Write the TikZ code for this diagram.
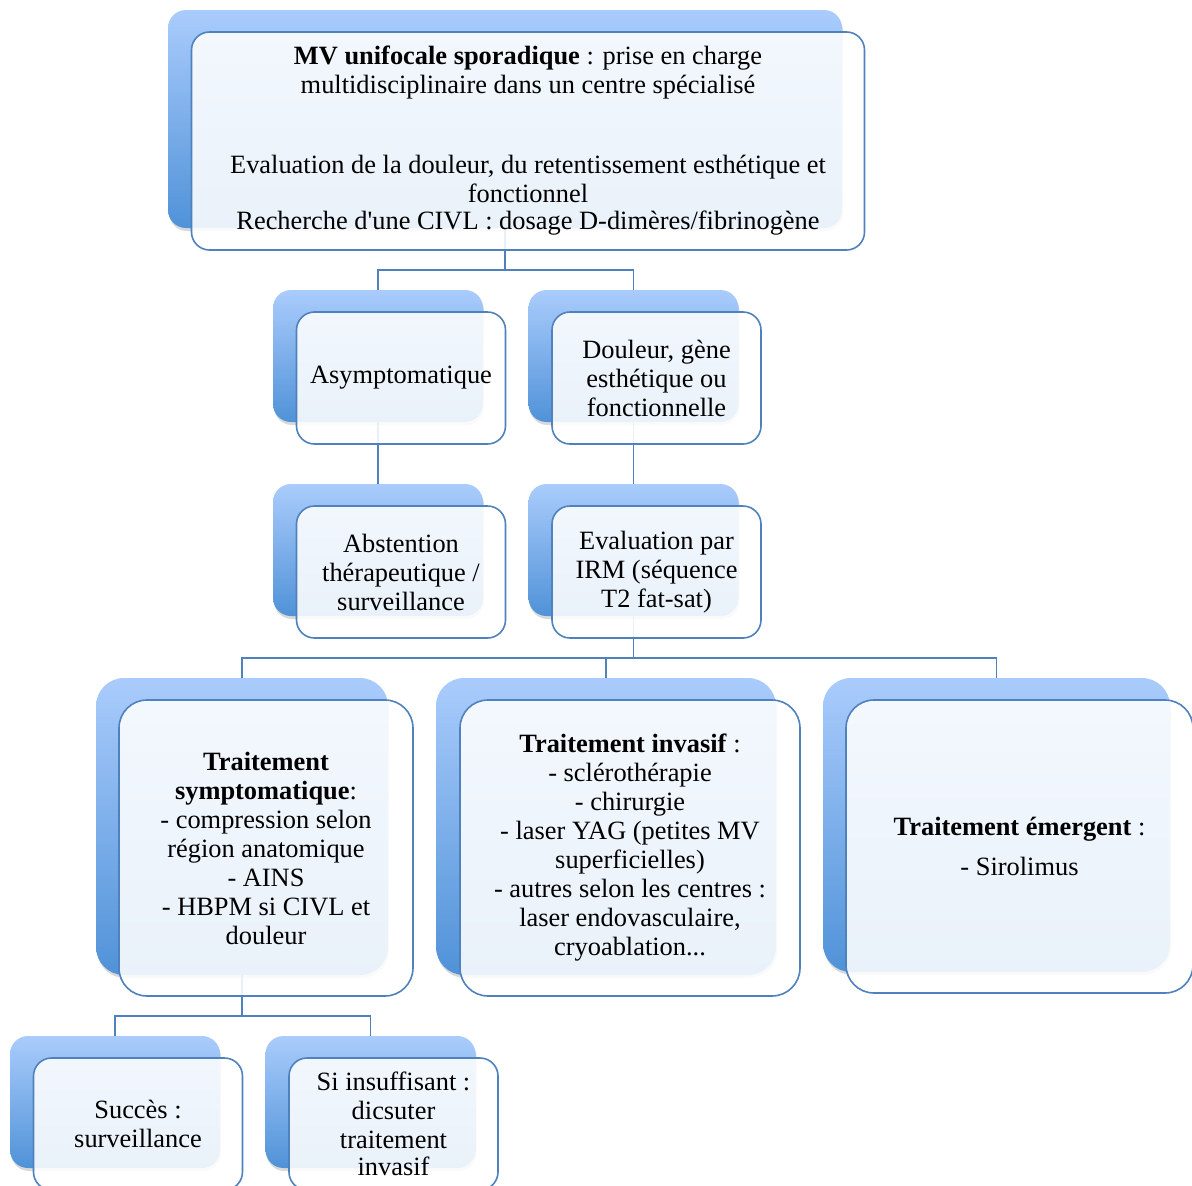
\documentclass[tikz,border=0pt]{standalone}
\usepackage{fontspec}
\setmainfont{Liberation Serif}
\usetikzlibrary{shadows,calc}

\definecolor{mvline}{RGB}{79,129,189}
\definecolor{mvtop}{RGB}{170,204,252}
\definecolor{mvbot}{RGB}{80,146,216}

\tikzset{
  backbox/.style={rectangle, rounded corners=18pt, top color=mvtop, bottom color=mvbot, draw=none,
    drop shadow={opacity=0.3, shadow xshift=1pt, shadow yshift=-3pt}},
  frontbox/.style={rectangle, rounded corners=18pt, draw=mvline, line width=1.6pt, fill=white,
    fill opacity=0.88, text opacity=1, align=center, inner sep=0pt, font=\fontsize{26.4}{29}\selectfont},
  conn/.style={draw=mvline, line width=1.8pt}
}

\begin{document}
\begin{tikzpicture}[x=1pt,y=-1pt]
  \clip (0,0) rectangle (1192,1186);

  % back boxes
  \node[backbox, minimum width=674pt, minimum height=218pt] (topB) at (505,119) {};
  \node[backbox, minimum width=210pt, minimum height=132pt] (asyB) at (378,356) {};
  \node[backbox, minimum width=210pt, minimum height=132pt] (douB) at (633.5,356) {};
  \node[backbox, minimum width=210pt, minimum height=132pt] (absB) at (378,550) {};
  \node[backbox, minimum width=210pt, minimum height=132pt] (irmB) at (633.5,550) {};
  \node[backbox, rounded corners=28pt, minimum width=292pt, minimum height=297pt] (symB) at (242,826.5) {};
  \node[backbox, rounded corners=28pt, minimum width=340pt, minimum height=297pt] (invB) at (606,826.5) {};
  \node[backbox, rounded corners=28pt, minimum width=347pt, minimum height=294pt] (emeB) at (996.5,825) {};
  \node[backbox, minimum width=210pt, minimum height=132pt] (sucB) at (115,1102) {};
  \node[backbox, minimum width=210pt, minimum height=132pt] (insB) at (370.5,1102) {};

  % connectors
  \draw[conn] (topB.south) -- ++(0,42) -| (asyB.north);
  \draw[conn] (topB.south) -- ++(0,42) -| (douB.north);
  \draw[conn] (asyB.south) -- (absB.north);
  \draw[conn] (douB.south) -- (irmB.north);
  \draw[conn] (irmB.south) -- ++(0,42) -| (symB.north);
  \draw[conn] (irmB.south) -- ++(0,42) -| (invB.north);
  \draw[conn] (irmB.south) -- ++(0,42) -| (emeB.north);
  \draw[conn] (symB.south) -- ++(0,41) -| (sucB.north);
  \draw[conn] (symB.south) -- ++(0,41) -| (insB.north);

  % front boxes
  \node[frontbox, minimum width=673pt, minimum height=218pt] (topF) at (528,141)
    {\textbf{MV unifocale sporadique} : prise en charge\\
     multidisciplinaire dans un centre spécialisé\\[51pt]
     Evaluation de la douleur, du retentissement esthétique et\\
     fonctionnel\\[-2pt]
     Recherche d\textquotesingle une CIVL : dosage D-dimères/fibrinogène};
  \node[frontbox, minimum width=209pt, minimum height=132pt] (asyF) at (401,378) {Asymptomatique};
  \node[frontbox, minimum width=209pt, minimum height=132pt] (douF) at (656.5,378)
    {Douleur, gène\\ esthétique ou\\ fonctionnelle};
  \node[frontbox, minimum width=209pt, minimum height=132pt] (absF) at (401,572)
    {Abstention\\ thérapeutique /\\ surveillance};
  \node[frontbox, minimum width=209pt, minimum height=132pt] (irmF) at (656.5,572)
    {Evaluation par\\ IRM (séquence\\ T2 fat-sat)};
  \node[frontbox, rounded corners=28pt, minimum width=294pt, minimum height=296pt] (symF) at (266,848)
    {\textbf{Traitement}\\ \textbf{symptomatique}:\\ - compression selon\\ région anatomique\\
     - AINS\\ - HBPM si CIVL et\\ douleur};
  \node[frontbox, rounded corners=28pt, minimum width=340pt, minimum height=296pt] (invF) at (630,848)
    {\textbf{Traitement invasif} :\\ - sclérothérapie\\ - chirurgie\\ - laser YAG (petites MV\\
     superficielles)\\ - autres selon les centres :\\ laser endovasculaire,\\ cryoablation...};
  \node[frontbox, rounded corners=28pt, minimum width=347pt, minimum height=293pt] (emeF) at (1019.5,846.5)
    {\textbf{Traitement émergent} :\\[11pt] - Sirolimus};
  \node[frontbox, minimum width=209pt, minimum height=132pt] (sucF) at (138,1124)
    {Succès :\\ surveillance};
  \node[frontbox, minimum width=209pt, minimum height=132pt] (insF) at (393.5,1124)
    {Si insuffisant :\\ dicsuter\\ traitement\\[-2pt] invasif};
\end{tikzpicture}
\end{document}
